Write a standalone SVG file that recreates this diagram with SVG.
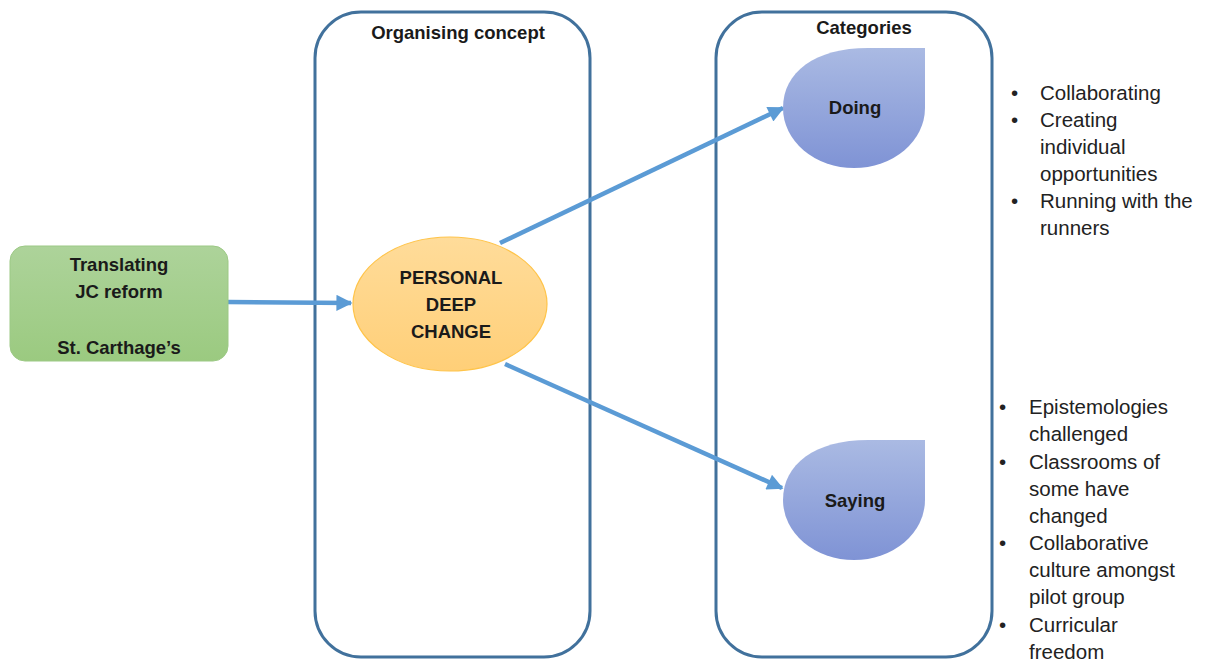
<svg xmlns="http://www.w3.org/2000/svg" width="1205" height="661" viewBox="0 0 1205 661">
<style>
.cont{fill:#FFFFFF;stroke:#41719C;stroke-width:3}
.t{font-family:"Liberation Sans",Arial,sans-serif;fill:#1a1a1a}
.b{font-weight:bold;font-size:18.5px}
.l{font-size:20.5px;fill:#222}
.conn{stroke:#5B9BD5;stroke-width:4.5;fill:none}
</style>
<defs>
<linearGradient id="gG" x1="0" y1="0" x2="0" y2="1"><stop offset="0" stop-color="#ADD39A"/><stop offset="1" stop-color="#9BCA80"/></linearGradient>
<linearGradient id="gO" x1="0" y1="0" x2="0" y2="1"><stop offset="0" stop-color="#FFDC9A"/><stop offset="1" stop-color="#FFCF78"/></linearGradient>
<linearGradient id="gB" x1="0" y1="0" x2="0" y2="1"><stop offset="0" stop-color="#AABAE3"/><stop offset="1" stop-color="#7F93D5"/></linearGradient>
<marker id="arr" viewBox="0 0 10 10" refX="9" refY="5" markerWidth="4" markerHeight="3.6" orient="auto" markerUnits="strokeWidth"><path d="M0,0 L10,5 L0,10 Z" fill="#5B9BD5"/></marker>
</defs>
<g id="container-organising">
<rect class="cont" x="315" y="12" width="275" height="645" rx="46"/>
<text class="t b" x="458" y="39" text-anchor="middle">Organising concept</text>
</g>
<g id="container-categories">
<rect class="cont" x="716" y="12" width="276" height="645" rx="46"/>
<text class="t b" x="864" y="34" text-anchor="middle">Categories</text>
</g>
<g id="connectors">
<line class="conn" x1="228" y1="302" x2="351" y2="303" marker-end="url(#arr)"/>
<line class="conn" x1="500" y1="243" x2="783" y2="108" marker-end="url(#arr)"/>
<line class="conn" x1="505" y1="364" x2="782" y2="488" marker-end="url(#arr)"/>
</g>
<g id="node-translating">
<rect x="10" y="246" width="218" height="115" rx="15" fill="url(#gG)" stroke="#9CC985" stroke-width="1"/>
<text class="t b" x="119" y="271" text-anchor="middle">Translating</text>
<text class="t b" x="119" y="298" text-anchor="middle">JC reform</text>
<text class="t b" x="119" y="354" text-anchor="middle">St. Carthage’s</text>
</g>
<g id="node-personal">
<ellipse cx="450" cy="304" rx="97" ry="67" fill="url(#gO)" stroke="#FFC44A" stroke-width="1.2"/>
<text class="t b" x="451" y="284" text-anchor="middle">PERSONAL</text>
<text class="t b" x="451" y="311" text-anchor="middle">DEEP</text>
<text class="t b" x="451" y="338" text-anchor="middle">CHANGE</text>
</g>
<g id="node-doing">
<path d="M925 48 L925 108 A71 60 0 0 1 783 108 C783 72 815 48 868 48 Z" fill="url(#gB)"/>
<text class="t b" x="855" y="114" text-anchor="middle">Doing</text>
</g>
<g id="node-saying">
<path d="M925 440 L925 500 A71 60 0 0 1 783 500 C783 464 815 440 868 440 Z" fill="url(#gB)"/>
<text class="t b" x="855" y="507" text-anchor="middle">Saying</text>
</g>
<g id="list-doing">
<text class="t l" x="1011" y="100">•</text><text class="t l" x="1040" y="100">Collaborating</text>
<text class="t l" x="1011" y="127">•</text><text class="t l" x="1040" y="127">Creating</text>
<text class="t l" x="1040" y="154">individual</text>
<text class="t l" x="1040" y="181">opportunities</text>
<text class="t l" x="1011" y="208">•</text><text class="t l" x="1040" y="208">Running with the</text>
<text class="t l" x="1040" y="235">runners</text>
</g>
<g id="list-saying">
<text class="t l" x="999" y="414">•</text><text class="t l" x="1029" y="414">Epistemologies</text>
<text class="t l" x="1029" y="441">challenged</text>
<text class="t l" x="999" y="469">•</text><text class="t l" x="1029" y="469">Classrooms of</text>
<text class="t l" x="1029" y="496">some have</text>
<text class="t l" x="1029" y="523">changed</text>
<text class="t l" x="999" y="550">•</text><text class="t l" x="1029" y="550">Collaborative</text>
<text class="t l" x="1029" y="577">culture amongst</text>
<text class="t l" x="1029" y="604">pilot group</text>
<text class="t l" x="999" y="632">•</text><text class="t l" x="1029" y="632">Curricular</text>
<text class="t l" x="1029" y="659">freedom</text>
</g>
</svg>
